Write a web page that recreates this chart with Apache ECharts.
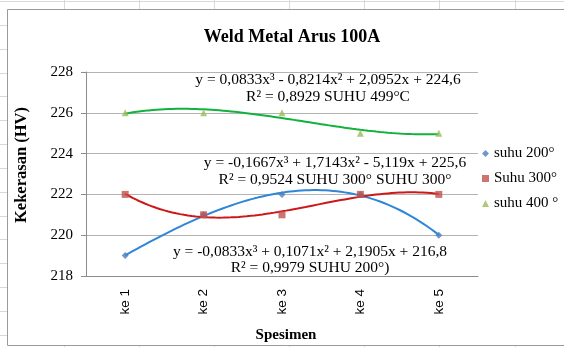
<!DOCTYPE html>
<html>
<head>
<meta charset="utf-8">
<script src="https://cdn.jsdelivr.net/npm/echarts@6/dist/echarts.min.js"></script>
<style>
  html, body { margin: 0; padding: 0; background: #fff; }
  #chart { width: 564px; height: 347px; }
</style>
</head>
<body>
<div id="chart"></div>
<script>
// Specimens and measured hardness (HV)
const categories = ['ke 1', 'ke 2', 'ke 3', 'ke 4', 'ke 5'];
const suhu200 = [219, 221, 222, 222, 220];
const suhu300 = [222, 221, 221, 222, 222];
const suhu400 = [226, 226, 226, 225, 225];
const yTicks = [218, 220, 222, 224, 226, 228];
const seriesNames = ['suhu 200°', 'Suhu 300°', 'suhu 400 °'];

// Cubic trendline coefficients [x³, x², x, constant] and R² values
const trend200 = [-0.0833, 0.1071, 2.1905, 216.8];
const trend300 = [-0.1667, 1.7143, -5.119, 225.6];
const trend400 = [0.0833, -0.8214, 2.0952, 224.6];
const r2Values = [0.9979, 0.9524, 0.8929];
const r2Suffix = [' SUHU 200°)', ' SUHU 300° SUHU 300°', ' SUHU 499°C'];

const markerColors = ['#4A7EBB', '#C0504D', '#9BBB59'];
const lineColors = ['#2F86D8', '#CC1818', '#12B23C'];
const serif = '"Liberation Serif", "Times New Roman", serif';

function poly(c, x) { return c[0] * x * x * x + c[1] * x * x + c[2] * x + c[3]; }
function curve(c) {
  const pts = [];
  for (let i = 0; i <= 80; i++) { const x = 1 + i * 0.05; pts.push([x, poly(c, x)]); }
  return pts;
}
function num(v) { return String(Math.abs(v)).replace('.', ','); }
function sgn(v, first) { return first ? (v < 0 ? '-' : '') : (v < 0 ? ' - ' : ' + '); }
function equation(c) {
  return 'y = ' + sgn(c[0], true) + num(c[0]) + 'x³' + sgn(c[1]) + num(c[1]) + 'x²' +
    sgn(c[2]) + num(c[2]) + 'x' + sgn(c[3]) + num(c[3]);
}
function r2Text(i) { return 'R² = ' + num(r2Values[i]) + r2Suffix[i]; }

// worksheet cells behind the chart object
const sheet = [];
for (let y = 1; y < 347; y += 23.85) {
  sheet.push({ type: 'line', z: -20, silent: true, shape: { x1: 0, y1: Math.round(y) + 0.5, x2: 564, y2: Math.round(y) + 0.5 }, style: { stroke: '#d9d9d9', lineWidth: 1 } });
}
for (let x = 63.5; x < 564; x += 75.2) {
  sheet.push({ type: 'line', z: -20, silent: true, shape: { x1: Math.round(x) + 0.5, y1: 0, x2: Math.round(x) + 0.5, y2: 347 }, style: { stroke: '#d9d9d9', lineWidth: 1 } });
}
sheet.push({ type: 'rect', z: -10, silent: true, shape: { x: 7.5, y: 9.5, width: 570, height: 336 }, style: { fill: '#fff', stroke: '#9a9a9a', lineWidth: 1 } });

function eqText(x, y, text) {
  return { type: 'text', z: 100, silent: true, x: x, y: y,
    style: { text: text, font: '15.5px ' + serif, fill: '#000', align: 'center', verticalAlign: 'middle' } };
}
const labels = [
  eqText(328, 80, equation(trend400)), eqText(328, 97, r2Text(2)),
  eqText(335, 163, equation(trend300)), eqText(335, 180, r2Text(1)),
  eqText(310, 252, equation(trend200)), eqText(310, 268, r2Text(0)),
  // axis titles
  { type: 'text', z: 100, silent: true, x: 22, y: 165, rotation: Math.PI / 2,
    style: { text: 'Kekerasan (HV)', font: 'bold 16.5px ' + serif, fill: '#000', align: 'center', verticalAlign: 'middle' } },
  { type: 'text', z: 100, silent: true, x: 286, y: 335,
    style: { text: 'Spesimen', font: 'bold 15px ' + serif, fill: '#000', align: 'center', verticalAlign: 'middle' } }
];

const chart = echarts.init(document.getElementById('chart'), null, { renderer: 'canvas' });
chart.setOption({
  animation: false,
  backgroundColor: '#fff',
  title: {
    text: 'Weld Metal Arus 100A', left: 287, top: 23, textAlign: 'center',
    textStyle: { fontFamily: serif, fontSize: 18, fontWeight: 'bold', color: '#000' }
  },
  legend: {
    orient: 'vertical', left: 477, top: 141, itemGap: 10, itemWidth: 7, itemHeight: 7,
    textStyle: { fontFamily: serif, fontSize: 15, color: '#000' },
    data: [
      { name: seriesNames[0], icon: 'diamond' },
      { name: seriesNames[1], icon: 'rect' },
      { name: seriesNames[2], icon: 'triangle' }
    ]
  },
  graphic: sheet.concat(labels),
  grid: { left: 86, right: 86, top: 72, bottom: 71, containLabel: false, outerBoundsMode: 'none' },
  xAxis: [
    {
      type: 'category', data: categories, boundaryGap: true,
      axisLine: { lineStyle: { color: '#8c8c8c' } },
      axisTick: { show: false },
      axisLabel: { rotate: 90, margin: 13, fontFamily: '"Liberation Sans", Arial, sans-serif', fontSize: 13.5, color: '#000' }
    },
    { type: 'value', min: 0.5, max: 5.5, show: false }
  ],
  yAxis: {
    type: 'value', min: yTicks[0], max: yTicks[yTicks.length - 1], interval: 2,
    axisLine: { show: true, lineStyle: { color: '#8c8c8c' } },
    axisTick: { show: true, length: 5, lineStyle: { color: '#8c8c8c' } },
    axisLabel: { margin: 13, fontFamily: serif, fontSize: 15, color: '#000' },
    splitLine: { lineStyle: { color: '#b3b3b3' } }
  },
  series: [
    { name: seriesNames[0] + ' trend', type: 'line', xAxisIndex: 1, data: curve(trend200), showSymbol: false, lineStyle: { color: lineColors[0], width: 2 }, z: 3 },
    { name: seriesNames[1] + ' trend', type: 'line', xAxisIndex: 1, data: curve(trend300), showSymbol: false, lineStyle: { color: lineColors[1], width: 2 }, z: 3 },
    { name: seriesNames[2] + ' trend', type: 'line', xAxisIndex: 1, data: curve(trend400), showSymbol: false, lineStyle: { color: lineColors[2], width: 2 }, z: 3 },
    { name: seriesNames[0], type: 'scatter', data: suhu200, symbol: 'diamond', symbolSize: 7, itemStyle: { color: markerColors[0] }, z: 4 },
    { name: seriesNames[1], type: 'scatter', data: suhu300, symbol: 'rect', symbolSize: 7, itemStyle: { color: markerColors[1] }, z: 4 },
    { name: seriesNames[2], type: 'scatter', data: suhu400, symbol: 'triangle', symbolSize: 7, itemStyle: { color: markerColors[2] }, z: 4 }
  ]
});
</script>
</body>
</html>
